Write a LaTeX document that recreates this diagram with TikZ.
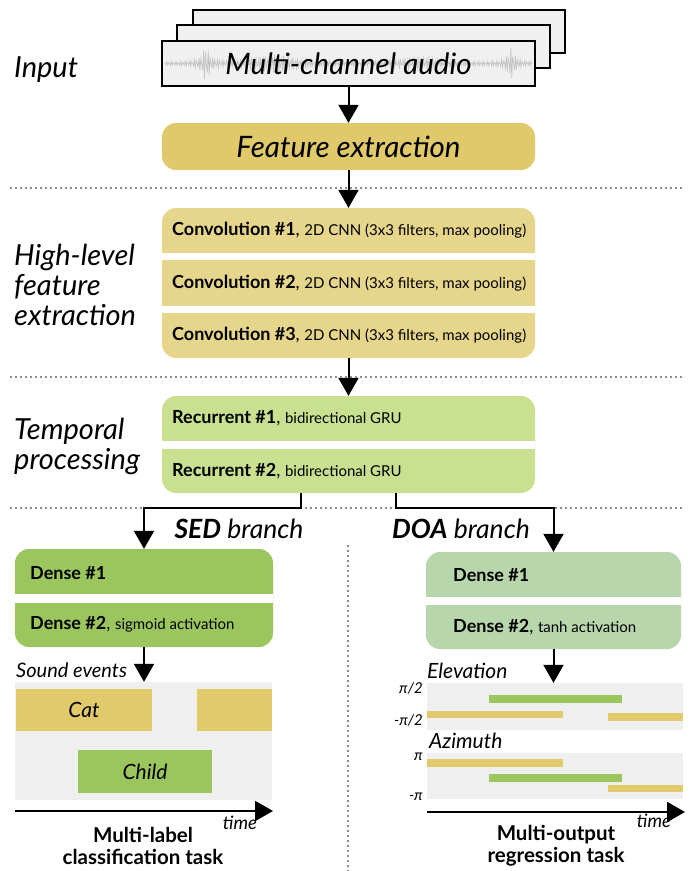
\documentclass[tikz,border=0pt]{standalone}
\usepackage{fontspec}
\setmainfont{Lato}
\usetikzlibrary{arrows.meta,positioning}

\definecolor{stackgray}{HTML}{F0F0F0}
\definecolor{wavegray}{HTML}{C4C4C4}
\definecolor{featgold}{HTML}{DFC96B}
\definecolor{convgold}{HTML}{E6D68B}
\definecolor{recgreen}{HTML}{C8E08F}
\definecolor{sedgreen}{HTML}{9BC65E}
\definecolor{doagreen}{HTML}{B8D6AB}
\definecolor{chartbg}{HTML}{EFEFEF}
\definecolor{bargold}{HTML}{E0CA6B}

\newcommand{\detail}[1]{{\fontsize{15}{18}\selectfont #1}}

\tikzset{
  flow/.style={line width=2pt, -{Triangle[width=20pt,length=18pt]}},
  layer/.style={rounded corners=14pt, minimum width=#1, inner sep=0pt},
  sepline/.style={black!45, line width=1.6pt, dash pattern=on 1.6pt off 3.4pt},
  laytext/.style={anchor=west, inner sep=0pt, font=\fontsize{18}{21}\selectfont},
  bigtext/.style={font=\fontsize{29.5}{33}\selectfont\itshape},
  sidetext/.style={anchor=west, inner sep=0pt, align=left, font=\fontsize{29}{30}\selectfont\itshape},
  branchtext/.style={inner sep=0pt, font=\fontsize{26.5}{30}\selectfont\itshape},
  charttitle/.style={anchor=west, inner sep=0pt, font=\fontsize{21}{24}\selectfont\itshape},
  bartext/.style={inner sep=0pt, font=\fontsize{21}{24}\selectfont\itshape},
  ticktext/.style={anchor=east, inner sep=0pt, font=\fontsize{15}{17}\selectfont\itshape},
  timetext/.style={inner sep=0pt, font=\fontsize{18.5}{20}\selectfont\itshape},
  tasktext/.style={inner sep=0pt, align=center, font=\fontsize{20.5}{22}\selectfont\bfseries}
}

\begin{document}
\begin{tikzpicture}[x=1pt,y=-1pt]
\useasboundingbox (0,0) rectangle (695,871);

% -- input stack
\draw[fill=stackgray, line width=2pt] (193,10) rectangle (565,53);
\draw[fill=stackgray, line width=2pt] (177,25) rectangle (550,68);
\draw[fill=stackgray, line width=2pt] (162,41) rectangle (535,86);
\draw[wavegray, line width=0.7pt, domain=165:532, samples=400]
  plot (\x, {63.5 + (1.5 + 16/(1+((\x-206)/4)^2) + 8/(1+((\x-275)/20)^2)
    + 14/(1+((\x-511)/4)^2) + 4/(1+((\x-420)/25)^2))*sin(10*mod(15.7*\x,360))});
\node[bigtext, minimum width=373pt, minimum height=45pt, inner sep=0pt] (audio) at (348.5,63.5) {Multi-channel audio};

% -- feature extraction
\node[bigtext, layer=373pt, fill=featgold, minimum height=47pt] (feat) at (348.5,146.5) {Feature extraction};
\draw[flow] (audio.south) -- (feat.north);

% -- convolution block
\node[layer=373pt, fill=convgold, minimum height=150pt] (conv) at (348.5,283) {};
\fill[white] (162,253) rectangle (535,260);
\fill[white] (162,306) rectangle (535,313);
\node[laytext] (conv1) at (172,230.5) {\textbf{Convolution \#1}, \detail{2D CNN (3x3 filters, max pooling)}};
\node[laytext] (conv2) at (172,283) {\textbf{Convolution \#2}, \detail{2D CNN (3x3 filters, max pooling)}};
\node[laytext] (conv3) at (172,335.5) {\textbf{Convolution \#3}, \detail{2D CNN (3x3 filters, max pooling)}};
\draw[flow] (feat.south) -- (conv.north);

% -- recurrent block
\node[layer=373pt, fill=recgreen, minimum height=97pt] (rec) at (348.5,444.5) {};
\fill[white] (162,441) rectangle (535,449);
\node[laytext] (rec1) at (172,418.5) {\textbf{Recurrent \#1}, \detail{bidirectional GRU}};
\node[laytext] (rec2) at (172,471) {\textbf{Recurrent \#2}, \detail{bidirectional GRU}};
\draw[flow] (conv.south) -- (rec.north);

% -- stage labels
\node[sidetext] (inputlbl) at (14,70) {Input};
\node[sidetext] (hlflbl) at (14,285) {High-level\\feature\\extraction};
\node[sidetext] (templbl) at (14,446) {Temporal\\processing};

% -- separators
\draw[sepline] (10,188) -- (685,188);
\draw[sepline] (10,377) -- (685,377);
\draw[sepline] (10,508) -- (685,508);
\draw[sepline] (348,545) -- (348,871);

% -- dense branches
\node[layer=258pt, fill=sedgreen, minimum height=98pt] (sed) at (144,598) {};
\fill[white] (15,594) rectangle (273,603);
\node[laytext] (sed1) at (30,573) {\textbf{Dense \#1}};
\node[laytext] (sed2) at (30,624.5) {\textbf{Dense \#2}, \detail{sigmoid activation}};

\node[layer=255pt, fill=doagreen, minimum height=97pt] (doa) at (553.5,600.5) {};
\fill[white] (426,597) rectangle (681,605);
\node[laytext] (doa1) at (453,575) {\textbf{Dense \#1}};
\node[laytext] (doa2) at (453,627.5) {\textbf{Dense \#2}, \detail{tanh activation}};

\coordinate (sedout) at (301,508);
\coordinate (sedturn) at (144,508);
\coordinate (doaout) at (396,508);
\coordinate (doaturn) at (553.5,508);
\draw[flow] (rec.south -| sedout) -- (sedout) -- (sedturn) -- (sed.north);
\draw[flow] (rec.south -| doaout) -- (doaout) -- (doaturn) -- (doa.north);
\node[branchtext] (sedlbl) at (239,529) {\textbf{SED} branch};
\node[branchtext] (doalbl) at (461,529) {\textbf{DOA} branch};

% -- SED output
\node[fill=chartbg, minimum width=257pt, minimum height=118pt, inner sep=0pt] (sedchart) at (143.5,741) {};
\node[charttitle, font=\fontsize{20}{24}\selectfont\itshape] (sndlbl) at (16,670) {Sound events};
\draw[flow] (sed.south) -- (sed.south |- sedchart.north);
\node[bartext, fill=bargold, minimum width=136pt, minimum height=42pt] (cat) at (84,710) {Cat};
\fill[bargold] (197,689) rectangle (272,731);
\node[bartext, fill=sedgreen, minimum width=134pt, minimum height=43pt] (child) at (145,771.5) {Child};
\draw[flow] (15,811) -- (273,811);
\node[timetext] (sedtime) at (240,823) {time};
\node[tasktext] (sedtask) at (143,846) {Multi-label\\classification task};

% -- DOA output
\node[fill=chartbg, minimum width=256pt, minimum height=47pt, inner sep=0pt] (elevchart) at (555,706.5) {};
\node[charttitle] (elevlbl) at (427,671) {Elevation};
\draw[flow] (doa.south) -- (doa.south |- elevchart.north);
\fill[sedgreen] (489,695) rectangle (622,703);
\fill[bargold] (427,711) rectangle (563,718);
\fill[bargold] (608,713) rectangle (683,721);
\node[ticktext] (elevhi) at (423,688) {π/2};
\node[ticktext] (elevlo) at (423,720) {-π/2};

\node[fill=chartbg, minimum width=256pt, minimum height=46pt, inner sep=0pt] (azichart) at (555,776) {};
\node[charttitle] (azilbl) at (429,741) {Azimuth};
\fill[bargold] (427,759) rectangle (563,767);
\fill[sedgreen] (489,774) rectangle (622,782);
\fill[bargold] (608,785) rectangle (683,792);
\node[ticktext] (azihi) at (423,757) {π};
\node[ticktext] (azilo) at (423,797) {-π};
\draw[flow] (427,812) -- (685,812);
\node[timetext] (doatime) at (654,821) {time};
\node[tasktext] (doatask) at (556,846) {Multi-output\\regression task};
\end{tikzpicture}
\end{document}
